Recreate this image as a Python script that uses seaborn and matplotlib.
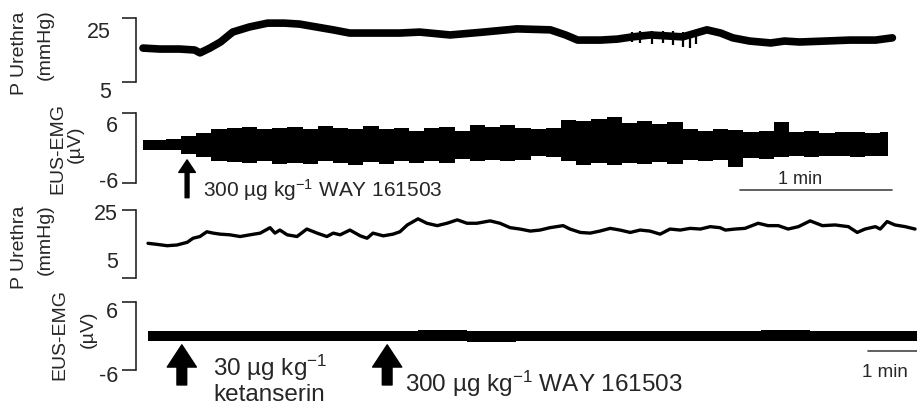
import matplotlib
matplotlib.use("Agg")
import matplotlib.pyplot as plt
import matplotlib.transforms as mtransforms
import seaborn as sns

sns.set_style("white")
plt.rcParams["font.family"] = ["Liberation Sans", "DejaVu Sans"]
plt.rcParams["mathtext.fontset"] = "custom"
plt.rcParams["mathtext.rm"] = "Liberation Sans"
plt.rcParams["mathtext.it"] = "Liberation Sans"

W, H = 917, 407

# ---- top recording (WAY 161503 alone), time in min ----
p1_t = [0.00, 0.11, 0.24, 0.34, 0.375, 0.44, 0.51, 0.59, 0.70, 0.82, 0.93,
        1.03, 1.14, 1.25, 1.36, 1.47, 1.69, 1.82, 2.02, 2.24, 2.46, 2.68,
        2.78, 2.86, 3.01, 3.12, 3.22, 3.34, 3.55, 3.71, 3.80, 3.88, 3.99,
        4.13, 4.22, 4.32, 4.49, 4.65, 4.82, 4.93]
p1_mmhg = [15.6, 15.3, 15.3, 15.0, 14.1, 15.6, 17.5, 20.6, 22.2, 23.4, 23.4,
           23.1, 22.2, 21.3, 20.3, 20.3, 20.3, 20.6, 19.7, 20.6, 21.6, 21.3,
           19.7, 18.1, 18.1, 18.4, 19.1, 19.7, 19.1, 21.3, 20.3, 18.8, 17.8,
           17.2, 17.8, 17.5, 17.8, 18.1, 18.1, 18.8]
p1_spike_t = [3.22, 3.27, 3.35, 3.42, 3.49, 3.55, 3.60, 3.64]
p1_spike_lo = [17.6, 17.2, 17.0, 17.2, 16.6, 15.9, 15.6, 16.9]
p1_spike_hi = [20.6, 20.8, 21.0, 21.0, 20.8, 20.6, 20.5, 21.4]

emg1_t = [round(0.1 * i, 1) for i in range(50)]
emg1_hi = [1.4, 1.4, 1.5, 2.0, 2.6, 3.2, 3.4, 3.6, 3.3, 3.5,
           3.6, 3.2, 3.8, 3.4, 3.3, 3.7, 3.2, 3.5, 3.0, 3.4,
           3.6, 3.0, 3.9, 3.6, 3.9, 3.4, 3.3, 3.5, 4.8, 4.6,
           4.9, 5.4, 4.3, 4.6, 4.2, 4.5, 3.2, 3.0, 3.3, 3.1,
           2.8, 2.9, 4.4, 2.7, 2.9, 2.6, 2.8, 2.7, 2.6, 2.7]
emg1_lo = [-0.3, -0.4, -0.3, -1.0, -1.5, -2.2, -2.4, -2.6, -2.3, -2.8,
           -2.5, -2.7, -2.3, -2.6, -2.9, -2.4, -2.8, -2.3, -2.5, -2.2,
           -2.6, -1.8, -2.3, -2.0, -2.2, -2.1, -1.3, -1.5, -2.3, -2.9,
           -2.6, -2.9, -2.5, -2.8, -2.4, -2.7, -2.0, -2.2, -2.0, -3.2,
           -1.7, -1.8, -1.6, -1.4, -1.5, -1.3, -1.4, -1.6, -1.3, -1.4]

# ---- bottom recording (ketanserin then WAY 161503), time in min ----
p2_t = [0.00, 0.18, 0.39, 0.59, 0.80, 0.92, 1.06, 1.20, 1.33, 1.47, 1.67,
        1.88, 2.08, 2.29, 2.49, 2.59, 2.69, 2.84, 3.04, 3.24, 3.45, 3.65,
        3.78, 3.92, 4.12, 4.33, 4.47, 4.59, 4.80, 5.00, 5.14, 5.29, 5.51,
        5.69, 5.90, 6.10, 6.31, 6.51, 6.71, 6.98, 7.18, 7.39, 7.59, 7.80,
        8.00, 8.20, 8.47, 8.61, 8.82, 9.02, 9.22, 9.43, 9.63, 9.84, 10.04,
        10.24, 10.45, 10.65, 10.86, 11.06, 11.27, 11.47, 11.67, 11.78, 11.98,
        12.18, 12.45, 12.65, 12.86, 13.06, 13.27, 13.51, 13.76, 14.02, 14.29,
        14.47, 14.63, 14.84, 14.94, 15.08, 15.24, 15.45, 15.65]
p2_mmhg = [15.2, 14.9, 14.5, 14.7, 15.5, 16.7, 17.2, 18.6, 18.2, 17.9, 17.7,
           17.2, 17.7, 18.2, 19.8, 18.2, 19.1, 17.7, 17.2, 19.4, 18.2, 17.2,
           18.2, 17.7, 19.1, 17.4, 16.7, 18.2, 17.4, 17.9, 18.6, 20.6, 22.4,
           21.1, 20.4, 21.1, 22.1, 21.1, 21.1, 21.8, 21.1, 19.8, 19.4, 18.8,
           19.1, 19.8, 20.4, 19.4, 18.4, 18.2, 18.8, 19.6, 19.1, 18.4, 19.1,
           18.8, 17.9, 19.4, 19.1, 19.6, 19.4, 20.1, 19.8, 19.1, 19.4,
           19.6, 21.1, 20.4, 20.4, 19.4, 20.1, 21.8, 20.4, 20.6, 20.1,
           18.4, 19.4, 20.1, 19.4, 21.6, 20.6, 20.1, 19.4]

emg2_t = [0, 1, 2, 3, 4, 5, 6, 7, 8, 9, 10, 11, 12, 13, 14, 15, 15.7]
emg2_hi = [0.9, 0.9, 0.8, 0.9, 0.9, 0.8, 1.0, 0.9, 0.8, 0.9, 0.9, 0.8, 0.9, 1.0, 0.9, 0.9, 0.9]
emg2_lo = [-0.9, -0.8, -0.9, -0.9, -0.8, -0.9, -0.9, -1.0, -0.9, -0.8, -0.9, -0.9, -0.8, -0.9, -0.9, -0.8, -0.9]

dose_top = 0.29
doses_bottom = [0.69, 4.88]


def px(x, y):
    return x / W, 1 - y / H


def make_ax(top, bottom, ylim, xlim):
    l, b = px(136, bottom)
    ax = fig.add_axes([l, b, 1 - l, (bottom - top) / H])
    ax.set_xlim(*xlim)
    ax.set_ylim(*ylim)
    sns.despine(ax=ax, bottom=True)
    ax.spines["left"].set_linewidth(1.2)
    ax.set_xticks([])
    ax.set_yticks(list(ylim))
    ax.set_yticklabels([])
    ax.tick_params(axis="y", direction="out", length=10, width=1.2, left=True)
    ax.patch.set_alpha(0)
    return ax


fig = plt.figure(figsize=(W / 100, H / 100), dpi=100)

xl1 = (-0.046, 5.092)
xl2 = (-0.245, 15.69)
ax1 = make_ax(18, 82, (5, 25), xl1)
ax2 = make_ax(113, 183, (-6, 6), xl1)
ax3 = make_ax(210, 278, (5, 25), xl2)
ax4 = make_ax(302, 370, (-6, 6), xl2)

sns.lineplot(x=p1_t, y=p1_mmhg, ax=ax1, color="black", linewidth=5.5)
ax1.vlines(p1_spike_t, p1_spike_lo, p1_spike_hi, color="black", lw=1.6)
ax2.fill_between(emg1_t, emg1_lo, emg1_hi, step="mid", color="black", lw=0)
sns.lineplot(x=p2_t, y=p2_mmhg, ax=ax3, color="black", linewidth=2.4)
ax4.fill_between(emg2_t, emg2_lo, emg2_hi, step="mid", color="black", lw=0)

# axis labels
lab = dict(rotation=90, ha="center", va="center", fontsize=14)
fig.text(*px(20, 53), "P Urethra", **lab)
fig.text(*px(45, 45), "(mmHg)", **lab)
fig.text(*px(58, 148), "EUS-EMG", **lab)
fig.text(*px(75, 144), "(µV)", **lab)
fig.text(*px(20, 247), "P Urethra", **lab)
fig.text(*px(45, 240), "(mmHg)", **lab)
fig.text(*px(60, 335), "EUS-EMG", **lab)
fig.text(*px(88, 329), "(µV)", **lab)

tk = dict(ha="right", va="center", fontsize=15.5)
fig.text(*px(111, 32), "25", **tk)
fig.text(*px(111, 93), "5", **tk)
fig.text(*px(118, 126), "6", **tk)
fig.text(*px(118, 182), "-6", **tk)
fig.text(*px(118, 215), "25", **tk)
fig.text(*px(118, 263), "5", **tk)
fig.text(*px(118, 313), "6", **tk)
fig.text(*px(118, 376), "-6", **tk)

# injection arrows
tr2 = mtransforms.blended_transform_factory(ax2.transData, ax2.transAxes)
ax2.annotate("", xy=(dose_top, 0.33), xytext=(dose_top, -0.21),
             xycoords=tr2, textcoords=tr2, annotation_clip=False,
             arrowprops=dict(facecolor="black", edgecolor="black", width=2.8,
                             headwidth=12, headlength=9, shrink=0))
fig.text(*px(203, 190), "300 µg kg$^{-1}$ WAY 161503", ha="left", va="center", fontsize=15)

tr4 = mtransforms.blended_transform_factory(ax4.transData, ax4.transAxes)
for d in doses_bottom:
    ax4.annotate("", xy=(d, 0.37), xytext=(d, -0.22),
                 xycoords=tr4, textcoords=tr4, annotation_clip=False,
                 arrowprops=dict(facecolor="black", edgecolor="black", width=7,
                                 headwidth=21, headlength=16, shrink=0))
fig.text(*px(213, 368), "30 µg kg$^{-1}$", ha="left", va="center", fontsize=17.5)
fig.text(*px(213, 395), "ketanserin", ha="left", va="center", fontsize=17.5)
fig.text(*px(405, 384), "300 µg kg$^{-1}$ WAY 161503", ha="left", va="center", fontsize=17.5)

# scale bars
ax2.plot([3.93, 4.93], [-0.1, -0.1], transform=tr2, color="#444444", lw=1.2, clip_on=False)
ax2.text(4.32, 0.043, "1 min", transform=tr2, ha="center", va="center", fontsize=13)
ax4.plot([14.69, 15.69], [0.28, 0.28], transform=tr4, color="#444444", lw=1.2, clip_on=False)
ax4.text(15.04, -0.044, "1 min", transform=tr4, ha="center", va="center", fontsize=13.5)

fig.savefig("out.png", dpi=100)
